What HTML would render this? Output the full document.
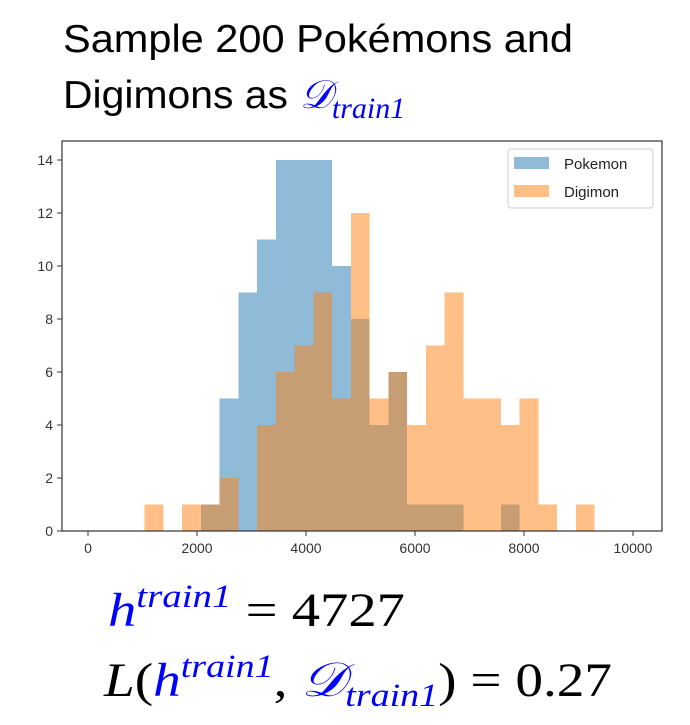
<!DOCTYPE html>
<html><head><meta charset="utf-8"><style>
body{margin:0;width:690px;height:725px;background:#fff;overflow:hidden}
svg{display:block}
</style></head><body>
<svg width="690" height="725" xmlns="http://www.w3.org/2000/svg">
<text x="63" y="52" font-family="Liberation Sans, sans-serif" font-size="39" fill="#000" textLength="510" lengthAdjust="spacingAndGlyphs">Sample 200 Pokémons and</text>
<text x="63" y="108" font-family="Liberation Sans, sans-serif" font-size="39" fill="#000" textLength="225" lengthAdjust="spacingAndGlyphs">Digimons as</text>
<text x="300" y="108" font-family="Liberation Serif, serif" font-size="40" fill="#0000ff" font-style="italic">𝒟<tspan font-size="30" dy="10">train1</tspan></text>
<g id="plot"></g>
<text x="108" y="626" font-family="Liberation Serif, serif" font-size="48" textLength="297" lengthAdjust="spacingAndGlyphs"><tspan fill="#0000ff" font-style="italic">h</tspan><tspan fill="#0000ff" font-style="italic" font-size="33" dy="-19">train1</tspan><tspan dy="19"> = 4727</tspan></text>
<text x="104" y="696" font-family="Liberation Serif, serif" font-size="48" textLength="508" lengthAdjust="spacingAndGlyphs"><tspan font-style="italic">L</tspan>(<tspan fill="#0000ff" font-style="italic">h</tspan><tspan fill="#0000ff" font-style="italic" font-size="33" dy="-19">train1</tspan><tspan dy="19">, </tspan><tspan fill="#0000ff" font-style="italic">𝒟</tspan><tspan fill="#0000ff" font-style="italic" font-size="33" dy="10">train1</tspan><tspan dy="-10">) = 0.27</tspan></text>
</svg>
<script>
const pokemonCounts=[0,0,0,1,5,9,11,14,14,14,10,8,4,6,1,1,1,0,0,1,0,0,0,0];
const digimonCounts=[1,0,1,1,2,0,4,6,7,9,5,12,5,6,4,7,9,5,5,4,5,1,0,1];
const binStart=1040;
const binWidth=344;
const xTicks=[0,2000,4000,6000,8000,10000];
const yTicks=[0,2,4,6,8,10,12,14];
const L=62,R=662,T=141,B=531;
const xs=v=>88+v*0.0545;
const ys=v=>B-v*26.5;
const NS='http://www.w3.org/2000/svg';
const g=document.getElementById('plot');
function mk(tag,attrs){const e=document.createElementNS(NS,tag);for(const k in attrs)e.setAttribute(k,attrs[k]);g.appendChild(e);return e;}
function bars(arr,color,name){
  arr.forEach((c,i)=>{ if(!c)return;
    const x0=xs(binStart+i*binWidth),x1=xs(binStart+(i+1)*binWidth);
    const r=mk('rect',{x:x0,y:ys(c),width:x1-x0,height:ys(0)-ys(c),fill:color,'fill-opacity':0.5,'shape-rendering':'crispEdges'});
    
    
  });
}
bars(pokemonCounts,'#1f77b4','pokemon');
bars(digimonCounts,'#ff7f0e','digimon');
const fr=mk('rect',{x:L,y:T,width:R-L,height:B-T,fill:'none',stroke:'#333','stroke-width':1.2});


xTicks.forEach(v=>{
  const x=xs(v);
  const l=mk('line',{x1:x,x2:x,y1:B,y2:B+5,stroke:'#333'});
  
  
  const t=mk('text',{x:x,y:B+22,'text-anchor':'middle','font-family':'Liberation Sans, sans-serif','font-size':14,fill:'#333'});
  t.textContent=v;
  
  
});
yTicks.forEach(v=>{
  const y=ys(v);
  const l=mk('line',{x1:L-5,x2:L,y1:y,y2:y,stroke:'#333'});
  
  
  const t=mk('text',{x:L-9,y:y+5,'text-anchor':'end','font-family':'Liberation Sans, sans-serif','font-size':14,fill:'#333'});
  t.textContent=v;
  
  
});
const lg=mk('rect',{x:508,y:149,width:145,height:59,rx:3,fill:'#fff','fill-opacity':0.8,stroke:'#ccc'});


[['Pokemon','#1f77b4',157],['Digimon','#ff7f0e',185]].forEach(([n,c,y])=>{
  const s=mk('rect',{x:514,y:y,width:35,height:12,fill:c,'fill-opacity':0.5});
  
  
  const t=mk('text',{x:564,y:y+12,'font-family':'Liberation Sans, sans-serif','font-size':15,fill:'#222'});
  t.textContent=n;
  
  
});
</script>
</body></html>
